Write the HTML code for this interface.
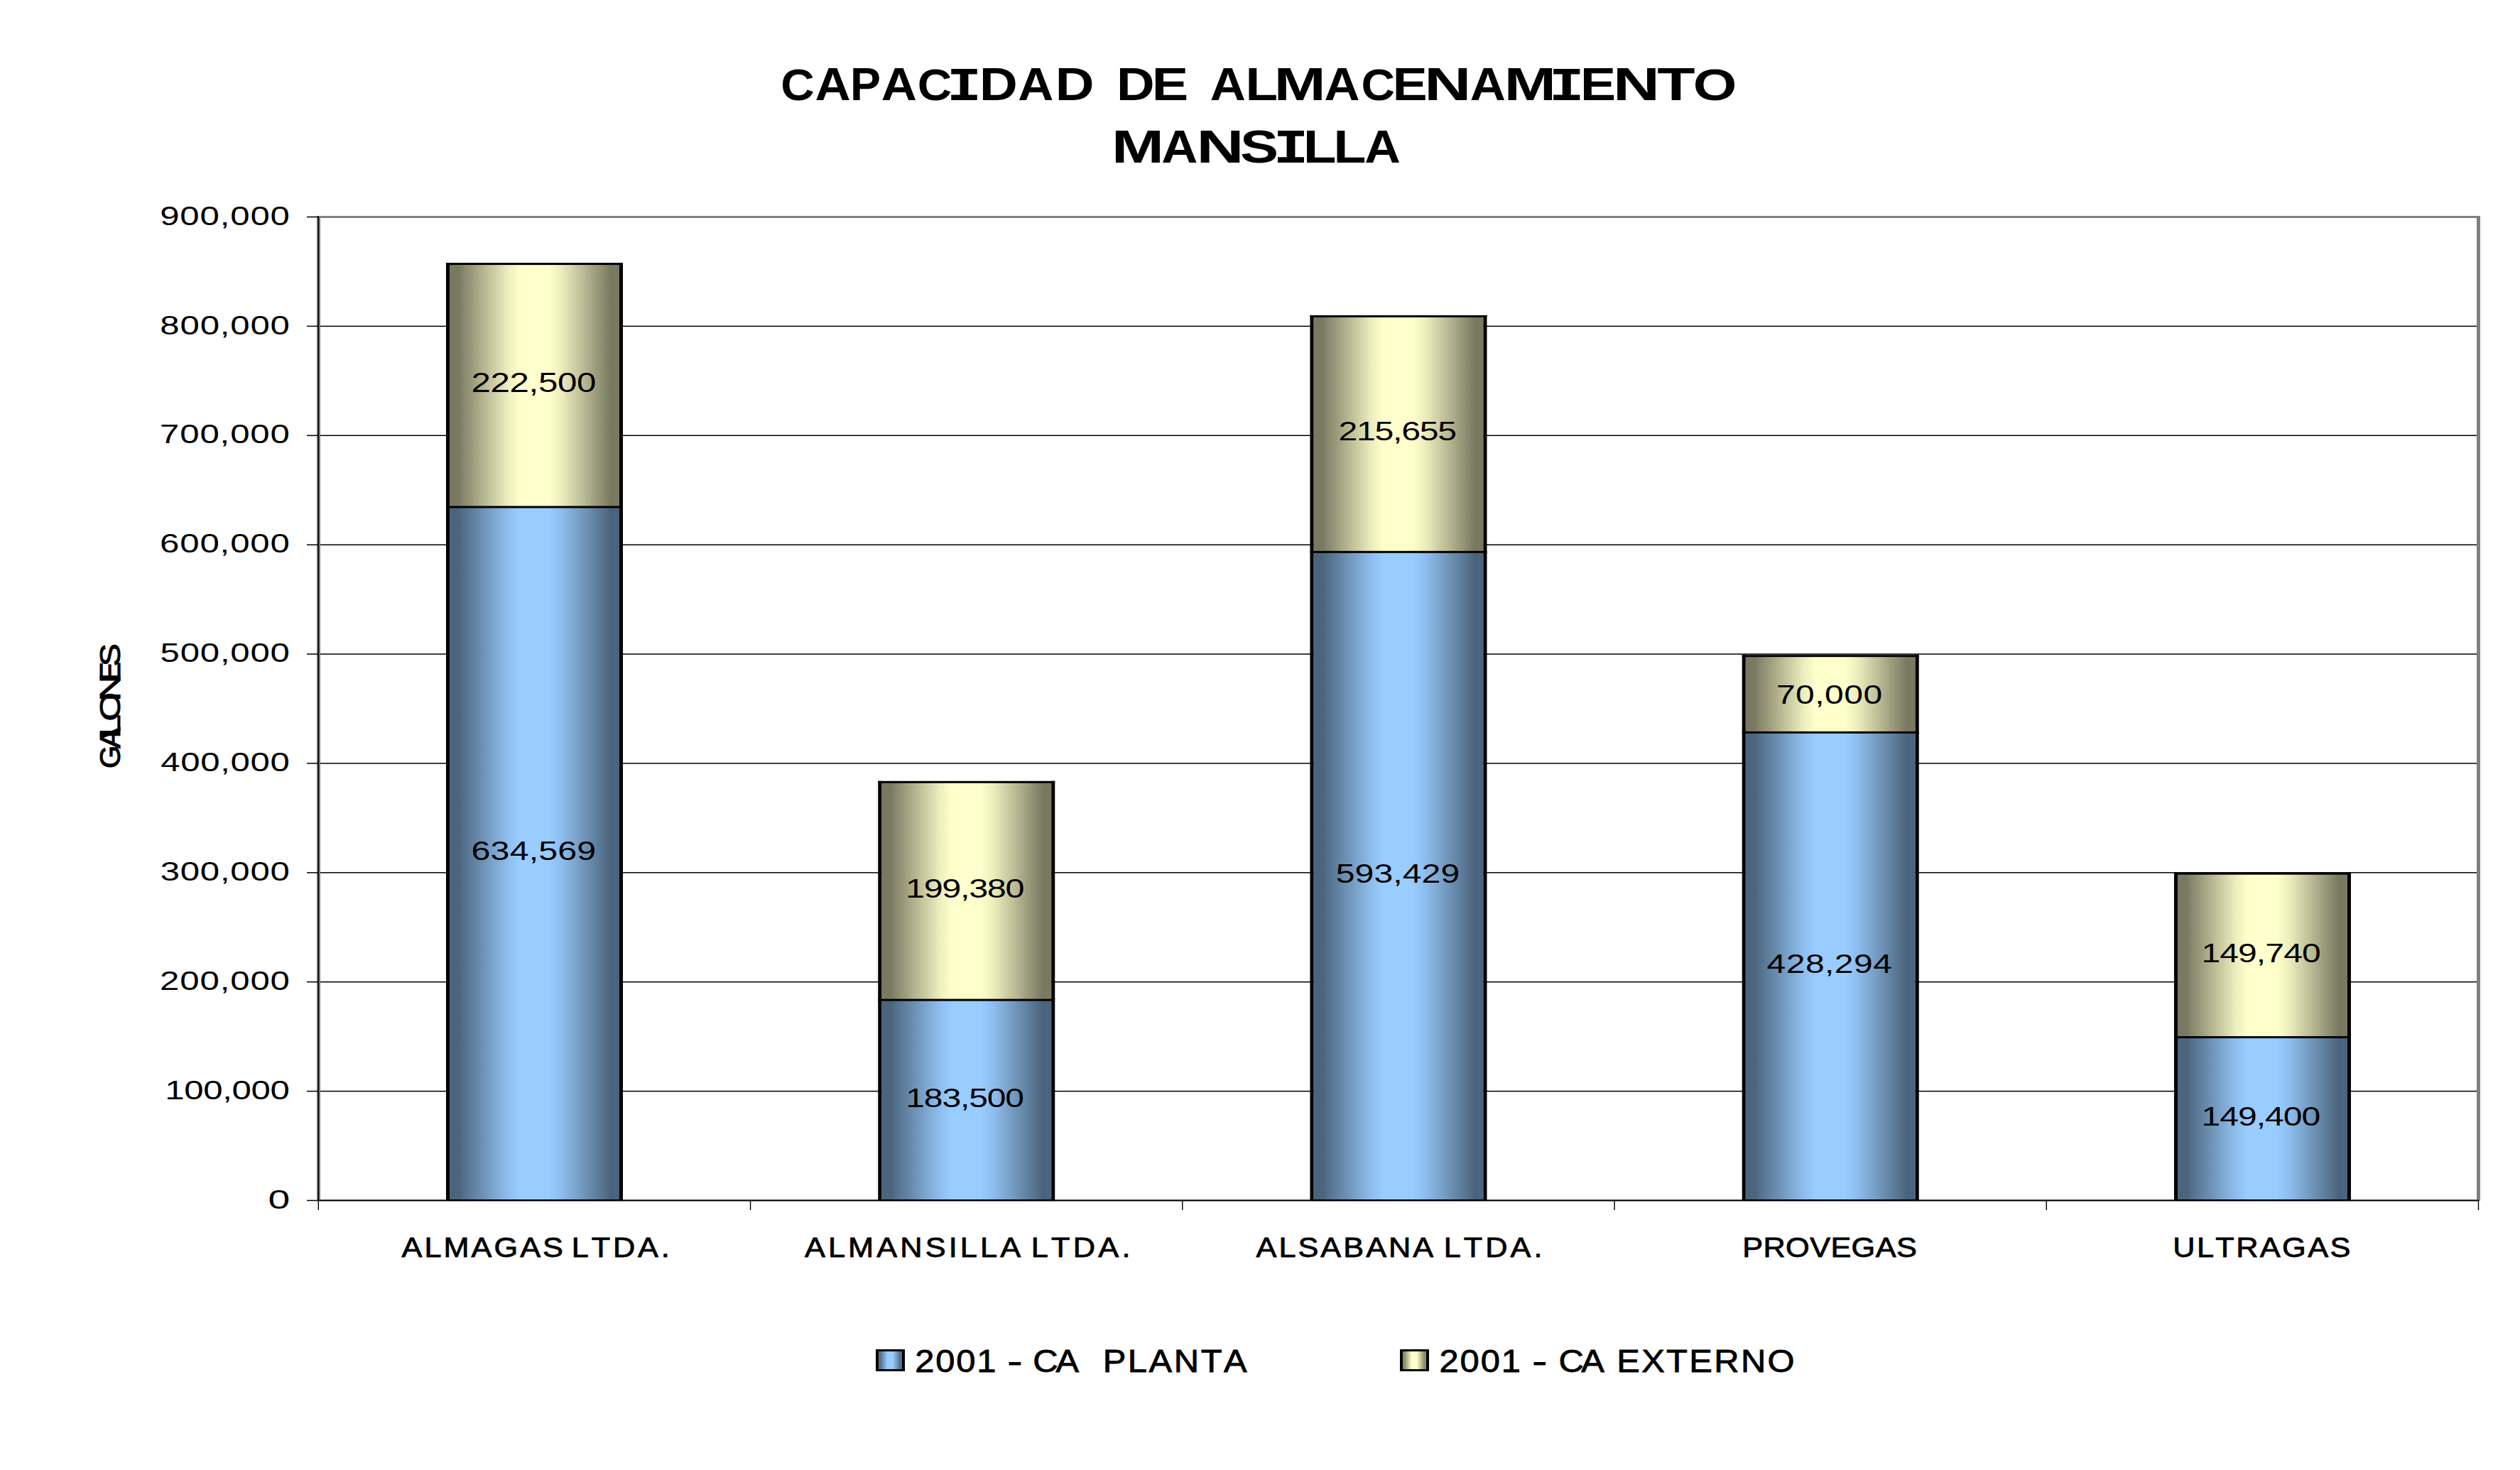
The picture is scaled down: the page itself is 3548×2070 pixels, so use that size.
<!DOCTYPE html>
<html><head><meta charset="utf-8"><title>Capacidad de almacenamiento Mansilla</title>
<style>
html,body{margin:0;padding:0;background:#fff;width:3548px;height:2070px;overflow:hidden}
svg{position:absolute;left:0;top:0;display:block}
text{font-family:"Liberation Sans", sans-serif;fill:#000;font-kerning:none}
</style></head><body>
<svg width="3548" height="2070" viewBox="0 0 3548 2070">
<defs>
<linearGradient id="gb" x1="0" y1="0" x2="1" y2="0">
<stop offset="0" stop-color="#4b647d"/>
<stop offset="0.05" stop-color="#4b647d"/>
<stop offset="0.2" stop-color="#6e93b7"/>
<stop offset="0.34" stop-color="#8ebded"/>
<stop offset="0.41" stop-color="#99ccff"/>
<stop offset="0.585" stop-color="#99ccff"/>
<stop offset="0.66" stop-color="#8ebded"/>
<stop offset="0.8" stop-color="#6e93b7"/>
<stop offset="0.95" stop-color="#4b647d"/>
<stop offset="1" stop-color="#4b647d"/>
</linearGradient>
<linearGradient id="gy" x1="0" y1="0" x2="1" y2="0">
<stop offset="0" stop-color="#797961"/>
<stop offset="0.05" stop-color="#797961"/>
<stop offset="0.2" stop-color="#b5b591"/>
<stop offset="0.34" stop-color="#ececbd"/>
<stop offset="0.41" stop-color="#ffffcc"/>
<stop offset="0.585" stop-color="#ffffcc"/>
<stop offset="0.66" stop-color="#ececbd"/>
<stop offset="0.8" stop-color="#b5b591"/>
<stop offset="0.95" stop-color="#797961"/>
<stop offset="1" stop-color="#797961"/>
</linearGradient>
<linearGradient id="lb" x1="0" y1="0" x2="1" y2="0">
<stop offset="0" stop-color="#54708c"/>
<stop offset="0.08" stop-color="#54708c"/>
<stop offset="0.38" stop-color="#99ccff"/>
<stop offset="0.6" stop-color="#99ccff"/>
<stop offset="0.92" stop-color="#54708c"/>
<stop offset="1" stop-color="#54708c"/>
</linearGradient>
<linearGradient id="ly" x1="0" y1="0" x2="1" y2="0">
<stop offset="0" stop-color="#8c8c70"/>
<stop offset="0.08" stop-color="#8c8c70"/>
<stop offset="0.38" stop-color="#ffffcc"/>
<stop offset="0.6" stop-color="#ffffcc"/>
<stop offset="0.92" stop-color="#8c8c70"/>
<stop offset="1" stop-color="#8c8c70"/>
</linearGradient>
</defs>
<rect x="0" y="0" width="3548" height="2070" fill="#fff"/>

<rect x="446" y="304" width="3046" height="3" fill="#808080"/>
<rect x="3487" y="304" width="5" height="1387" fill="#808080"/>
<rect x="446" y="304" width="5" height="1387" fill="#808080"/>
<rect x="446" y="1689" width="3046" height="2" fill="#808080"/>
<rect x="451" y="1535.86" width="3036" height="1.5" fill="#000"/>
<rect x="451" y="1381.97" width="3036" height="1.5" fill="#000"/>
<rect x="451" y="1228.08" width="3036" height="1.5" fill="#000"/>
<rect x="451" y="1074.19" width="3036" height="1.5" fill="#000"/>
<rect x="451" y="920.31" width="3036" height="1.5" fill="#000"/>
<rect x="451" y="766.42" width="3036" height="1.5" fill="#000"/>
<rect x="451" y="612.53" width="3036" height="1.5" fill="#000"/>
<rect x="451" y="458.64" width="3036" height="1.5" fill="#000"/>
<rect x="633.00" y="713.97" width="239" height="975.03" fill="url(#gb)"/>
<rect x="633.00" y="371.57" width="239" height="342.40" fill="url(#gy)"/>
<rect x="628.00" y="370.07" width="5" height="1319.93" fill="#000"/>
<rect x="872.00" y="370.07" width="5" height="1319.93" fill="#000"/>
<rect x="628.00" y="370.07" width="249" height="3" fill="#000"/>
<rect x="628.00" y="712.47" width="249" height="3" fill="#000"/>
<rect x="628.00" y="1689" width="249" height="1" fill="#000"/>
<text transform="translate(663.54,1210.60) scale(1.3,1)" font-size="37.24" textLength="135.19" lengthAdjust="spacing" xml:space="preserve">634,569</text>
<text transform="translate(663.52,551.80) scale(1.3,1)" font-size="37.95" textLength="135.31" lengthAdjust="spacing" xml:space="preserve">222,500</text>
<rect x="1241.24" y="1408.11" width="239" height="280.89" fill="url(#gb)"/>
<rect x="1241.24" y="1101.29" width="239" height="306.82" fill="url(#gy)"/>
<rect x="1236.24" y="1099.79" width="5" height="590.21" fill="#000"/>
<rect x="1480.24" y="1099.79" width="5" height="590.21" fill="#000"/>
<rect x="1236.24" y="1099.79" width="249" height="3" fill="#000"/>
<rect x="1236.24" y="1406.61" width="249" height="3" fill="#000"/>
<rect x="1236.24" y="1689" width="249" height="1" fill="#000"/>
<text transform="translate(1275.24,1558.90) scale(1.3,1)" font-size="36.95" textLength="128.33" lengthAdjust="spacing" xml:space="preserve">183,500</text>
<text transform="translate(1275.00,1264.00) scale(1.3,1)" font-size="37.38" textLength="128.85" lengthAdjust="spacing" xml:space="preserve">199,380</text>
<rect x="1849.48" y="777.28" width="239" height="911.72" fill="url(#gb)"/>
<rect x="1849.48" y="445.41" width="239" height="331.87" fill="url(#gy)"/>
<rect x="1844.48" y="443.91" width="5" height="1246.09" fill="#000"/>
<rect x="2088.48" y="443.91" width="5" height="1246.09" fill="#000"/>
<rect x="1844.48" y="443.91" width="249" height="3" fill="#000"/>
<rect x="1844.48" y="775.78" width="249" height="3" fill="#000"/>
<rect x="1844.48" y="1689" width="249" height="1" fill="#000"/>
<text transform="translate(1880.77,1242.90) scale(1.3,1)" font-size="37.09" textLength="134.24" lengthAdjust="spacing" xml:space="preserve">593,429</text>
<text transform="translate(1884.57,620.00) scale(1.3,1)" font-size="37.09" textLength="128.04" lengthAdjust="spacing" xml:space="preserve">215,655</text>
<rect x="2457.72" y="1031.40" width="239" height="657.60" fill="url(#gb)"/>
<rect x="2457.72" y="923.68" width="239" height="107.72" fill="url(#gy)"/>
<rect x="2452.72" y="922.18" width="5" height="767.82" fill="#000"/>
<rect x="2696.72" y="922.18" width="5" height="767.82" fill="#000"/>
<rect x="2452.72" y="922.18" width="249" height="3" fill="#000"/>
<rect x="2452.72" y="1029.90" width="249" height="3" fill="#000"/>
<rect x="2452.72" y="1689" width="249" height="1" fill="#000"/>
<text transform="translate(2487.60,1369.70) scale(1.3,1)" font-size="36.95" textLength="135.62" lengthAdjust="spacing" xml:space="preserve">428,294</text>
<text transform="translate(2500.94,990.90) scale(1.3,1)" font-size="36.95" textLength="114.80" lengthAdjust="spacing" xml:space="preserve">70,000</text>
<rect x="3065.96" y="1460.59" width="239" height="228.41" fill="url(#gb)"/>
<rect x="3065.96" y="1230.16" width="239" height="230.43" fill="url(#gy)"/>
<rect x="3060.96" y="1228.66" width="5" height="461.34" fill="#000"/>
<rect x="3304.96" y="1228.66" width="5" height="461.34" fill="#000"/>
<rect x="3060.96" y="1228.66" width="249" height="3" fill="#000"/>
<rect x="3060.96" y="1459.09" width="249" height="3" fill="#000"/>
<rect x="3060.96" y="1689" width="249" height="1" fill="#000"/>
<text transform="translate(3099.44,1584.80) scale(1.3,1)" font-size="36.95" textLength="129.10" lengthAdjust="spacing" xml:space="preserve">149,400</text>
<text transform="translate(3099.44,1354.80) scale(1.3,1)" font-size="36.95" textLength="129.41" lengthAdjust="spacing" xml:space="preserve">149,740</text>
<rect x="447.5" y="304.5" width="1.6" height="1387" fill="#000"/>
<rect x="448" y="1689.7" width="3041.5" height="1.8" fill="#000"/>
<rect x="432" y="1689.75" width="17" height="1.5" fill="#000"/>
<rect x="432" y="1535.86" width="17" height="1.5" fill="#000"/>
<rect x="432" y="1381.97" width="17" height="1.5" fill="#000"/>
<rect x="432" y="1228.08" width="17" height="1.5" fill="#000"/>
<rect x="432" y="1074.19" width="17" height="1.5" fill="#000"/>
<rect x="432" y="920.31" width="17" height="1.5" fill="#000"/>
<rect x="432" y="766.42" width="17" height="1.5" fill="#000"/>
<rect x="432" y="612.53" width="17" height="1.5" fill="#000"/>
<rect x="432" y="458.64" width="17" height="1.5" fill="#000"/>
<rect x="432" y="304.75" width="17" height="1.5" fill="#000"/>
<rect x="447.60" y="1690" width="1.4" height="14" fill="#000"/>
<rect x="1055.84" y="1690" width="1.4" height="14" fill="#000"/>
<rect x="1664.08" y="1690" width="1.4" height="14" fill="#000"/>
<rect x="2272.32" y="1690" width="1.4" height="14" fill="#000"/>
<rect x="2880.56" y="1690" width="1.4" height="14" fill="#000"/>
<rect x="3488.80" y="1690" width="1.4" height="14" fill="#000"/>
<text transform="translate(565.52,1770.00) scale(1.12,1)" font-size="38.67" stroke="#000" stroke-width="0.8" textLength="203.10" lengthAdjust="spacing">ALMAGAS</text>
<text transform="translate(804.75,1770.00) scale(1.12,1)" font-size="38.67" stroke="#000" stroke-width="0.8" textLength="123.31" lengthAdjust="spacing">LTDA.</text>
<text transform="translate(1132.92,1770.00) scale(1.12,1)" font-size="38.67" stroke="#000" stroke-width="0.8" textLength="271.67" lengthAdjust="spacing">ALMANSILLA</text>
<text transform="translate(1451.65,1770.00) scale(1.12,1)" font-size="38.67" stroke="#000" stroke-width="0.8" textLength="124.92" lengthAdjust="spacing">LTDA.</text>
<text transform="translate(1768.52,1770.00) scale(1.12,1)" font-size="38.67" stroke="#000" stroke-width="0.8" textLength="222.92" lengthAdjust="spacing">ALSABANA</text>
<text transform="translate(2032.65,1770.00) scale(1.12,1)" font-size="38.67" stroke="#000" stroke-width="0.8" textLength="124.02" lengthAdjust="spacing">LTDA.</text>
<text transform="translate(2453.25,1770.00) scale(1.12,1)" font-size="38.67" stroke="#000" stroke-width="0.8" textLength="219.23" lengthAdjust="spacing">PROVEGAS</text>
<text transform="translate(3059.26,1770.00) scale(1.12,1)" font-size="38.67" stroke="#000" stroke-width="0.8" textLength="223.24" lengthAdjust="spacing">ULTRAGAS</text>
<text transform="translate(377.44,1701.70) scale(1.4607,1)" font-size="37.81">0</text>
<text transform="translate(232.26,1547.81) scale(1.3,1)" font-size="37.81" textLength="135.13" lengthAdjust="spacing">100,000</text>
<text transform="translate(225.03,1393.92) scale(1.3,1)" font-size="37.81" textLength="140.69" lengthAdjust="spacing">200,000</text>
<text transform="translate(225.63,1240.03) scale(1.3,1)" font-size="37.81" textLength="140.22" lengthAdjust="spacing">300,000</text>
<text transform="translate(226.37,1086.14) scale(1.3,1)" font-size="37.81" textLength="139.65" lengthAdjust="spacing">400,000</text>
<text transform="translate(225.53,932.26) scale(1.3,1)" font-size="37.81" textLength="140.30" lengthAdjust="spacing">500,000</text>
<text transform="translate(225.00,778.37) scale(1.3,1)" font-size="37.81" textLength="140.70" lengthAdjust="spacing">600,000</text>
<text transform="translate(224.98,624.48) scale(1.3,1)" font-size="37.81" textLength="140.72" lengthAdjust="spacing">700,000</text>
<text transform="translate(225.36,470.59) scale(1.3,1)" font-size="37.81" textLength="140.43" lengthAdjust="spacing">800,000</text>
<text transform="translate(225.20,316.70) scale(1.3,1)" font-size="37.81" textLength="140.56" lengthAdjust="spacing">900,000</text>
<text transform="translate(169,938.28) rotate(-90) scale(1.1823,1)" font-size="40.70" stroke="#000" stroke-width="1.0">S</text>
<text transform="translate(169,961.42) rotate(-90) scale(1.0835,1)" font-size="40.70" stroke="#000" stroke-width="1.0">E</text>
<text transform="translate(169,987.91) rotate(-90) scale(1.3812,1)" font-size="40.70" stroke="#000" stroke-width="1.0">N</text>
<text transform="translate(169,1015.48) rotate(-90) scale(1.2850,1)" font-size="40.70" stroke="#000" stroke-width="1.0">O</text>
<text transform="translate(169,1040.85) rotate(-90) scale(1.5436,1)" font-size="40.70" stroke="#000" stroke-width="1.0">L</text>
<text transform="translate(169,1054.09) rotate(-90) scale(1.0931,1)" font-size="40.70" stroke="#000" stroke-width="1.0">A</text>
<text transform="translate(169,1082.09) rotate(-90) scale(1.0200,1)" font-size="40.70" stroke="#000" stroke-width="1.0">G</text>
<text transform="translate(1099.21,141.00) scale(1.0413,1)" style='font-family:"Liberation Sans", sans-serif' font-size="63.02" font-weight="bold">C</text>
<text transform="translate(1147.57,141.00) scale(1.0861,1)" style='font-family:"Liberation Sans", sans-serif' font-size="63.95" font-weight="bold">A</text>
<text transform="translate(1197.09,141.00) scale(1.0085,1)" style='font-family:"Liberation Sans", sans-serif' font-size="63.95" font-weight="bold">P</text>
<text transform="translate(1240.67,141.00) scale(1.0861,1)" style='font-family:"Liberation Sans", sans-serif' font-size="63.95" font-weight="bold">A</text>
<text transform="translate(1291.75,141.00) scale(1.0631,1)" style='font-family:"Liberation Sans", sans-serif' font-size="63.02" font-weight="bold">C</text>
<text transform="translate(1332.94,141.00) scale(1.2217,1)" style='font-family:"Liberation Mono", monospace' font-size="66.80" font-weight="bold">I</text>
<text transform="translate(1378.93,141.00) scale(1.1626,1)" style='font-family:"Liberation Sans", sans-serif' font-size="63.95" font-weight="bold">D</text>
<text transform="translate(1433.27,141.00) scale(1.0861,1)" style='font-family:"Liberation Sans", sans-serif' font-size="63.95" font-weight="bold">A</text>
<text transform="translate(1485.63,141.00) scale(1.1856,1)" style='font-family:"Liberation Sans", sans-serif' font-size="63.95" font-weight="bold">D</text>
<text transform="translate(1572.04,141.00) scale(1.1601,1)" style='font-family:"Liberation Sans", sans-serif' font-size="63.95" font-weight="bold">D</text>
<text transform="translate(1621.84,141.00) scale(1.2068,1)" style='font-family:"Liberation Sans", sans-serif' font-size="63.95" font-weight="bold">E</text>
<text transform="translate(1703.77,141.00) scale(1.0861,1)" style='font-family:"Liberation Sans", sans-serif' font-size="63.95" font-weight="bold">A</text>
<text transform="translate(1753.51,141.00) scale(1.1670,1)" style='font-family:"Liberation Sans", sans-serif' font-size="63.95" font-weight="bold">L</text>
<text transform="translate(1793.64,141.00) scale(1.3686,1)" style='font-family:"Liberation Sans", sans-serif' font-size="63.95" font-weight="bold">M</text>
<text transform="translate(1864.47,141.00) scale(1.0837,1)" style='font-family:"Liberation Sans", sans-serif' font-size="63.95" font-weight="bold">A</text>
<text transform="translate(1916.41,141.00) scale(1.0413,1)" style='font-family:"Liberation Sans", sans-serif' font-size="63.02" font-weight="bold">C</text>
<text transform="translate(1960.70,141.00) scale(1.1455,1)" style='font-family:"Liberation Sans", sans-serif' font-size="63.95" font-weight="bold">E</text>
<text transform="translate(2005.18,141.00) scale(1.4309,1)" style='font-family:"Liberation Sans", sans-serif' font-size="63.95" font-weight="bold">N</text>
<text transform="translate(2069.77,141.00) scale(1.0861,1)" style='font-family:"Liberation Sans", sans-serif' font-size="63.95" font-weight="bold">A</text>
<text transform="translate(2117.73,141.00) scale(1.3730,1)" style='font-family:"Liberation Sans", sans-serif' font-size="63.95" font-weight="bold">M</text>
<text transform="translate(2180.72,141.00) scale(1.2451,1)" style='font-family:"Liberation Mono", monospace' font-size="66.80" font-weight="bold">I</text>
<text transform="translate(2224.98,141.00) scale(1.1733,1)" style='font-family:"Liberation Sans", sans-serif' font-size="63.95" font-weight="bold">E</text>
<text transform="translate(2271.00,141.00) scale(1.4256,1)" style='font-family:"Liberation Sans", sans-serif' font-size="63.95" font-weight="bold">N</text>
<text transform="translate(2333.32,141.00) scale(1.3648,1)" style='font-family:"Liberation Sans", sans-serif' font-size="63.95" font-weight="bold">T</text>
<text transform="translate(2383.85,141.00) scale(1.2561,1)" style='font-family:"Liberation Sans", sans-serif' font-size="63.02" font-weight="bold">O</text>
<text transform="translate(1565.07,229.00) scale(1.3556,1)" style='font-family:"Liberation Sans", sans-serif' font-size="65.41" font-weight="bold">M</text>
<text transform="translate(1635.24,229.00) scale(1.0824,1)" style='font-family:"Liberation Sans", sans-serif' font-size="65.41" font-weight="bold">A</text>
<text transform="translate(1684.50,229.00) scale(1.4173,1)" style='font-family:"Liberation Sans", sans-serif' font-size="65.41" font-weight="bold">N</text>
<text transform="translate(1746.07,229.00) scale(1.2561,1)" style='font-family:"Liberation Sans", sans-serif' font-size="64.45" font-weight="bold">S</text>
<text transform="translate(1792.78,229.00) scale(1.2076,1)" style='font-family:"Liberation Mono", monospace' font-size="68.32" font-weight="bold">I</text>
<text transform="translate(1834.92,229.00) scale(1.1619,1)" style='font-family:"Liberation Sans", sans-serif' font-size="65.41" font-weight="bold">L</text>
<text transform="translate(1877.48,229.00) scale(1.1470,1)" style='font-family:"Liberation Sans", sans-serif' font-size="65.41" font-weight="bold">L</text>
<text transform="translate(1921.26,229.00) scale(1.0710,1)" style='font-family:"Liberation Sans", sans-serif' font-size="65.41" font-weight="bold">A</text>
<rect x="1233" y="1900" width="41" height="31" fill="#000"/>
<rect x="1237" y="1903" width="33" height="25" fill="url(#lb)"/>
<text transform="translate(1288.24,1931.50) scale(1.12,1)" font-size="43.68" stroke="#000" stroke-width="0.8" textLength="101.92" lengthAdjust="spacing">2001</text>
<text transform="translate(1454.22,1931.50) scale(1.12,1)" font-size="43.68" stroke="#000" stroke-width="0.8" textLength="57.84" lengthAdjust="spacing">CA</text>
<text transform="translate(1552.69,1931.50) scale(1.12,1)" font-size="43.68" stroke="#000" stroke-width="0.8" textLength="181.26" lengthAdjust="spacing">PLANTA</text>
<text transform="translate(1418.14,1931.50) scale(1.4722,1)" font-size="43.68" stroke="#000" stroke-width="0.8">-</text>
<rect x="1971" y="1900" width="41" height="31" fill="#000"/>
<rect x="1975" y="1903" width="33" height="25" fill="url(#ly)"/>
<text transform="translate(2026.54,1931.50) scale(1.12,1)" font-size="43.68" stroke="#000" stroke-width="0.8" textLength="102.19" lengthAdjust="spacing">2001</text>
<text transform="translate(2194.42,1931.50) scale(1.12,1)" font-size="43.68" stroke="#000" stroke-width="0.8" textLength="57.57" lengthAdjust="spacing">CA</text>
<text transform="translate(2276.19,1931.50) scale(1.12,1)" font-size="43.68" stroke="#000" stroke-width="0.8" textLength="223.62" lengthAdjust="spacing">EXTERNO</text>
<text transform="translate(2157.18,1931.50) scale(1.4534,1)" font-size="43.68" stroke="#000" stroke-width="0.8">-</text>
</svg></body></html>
